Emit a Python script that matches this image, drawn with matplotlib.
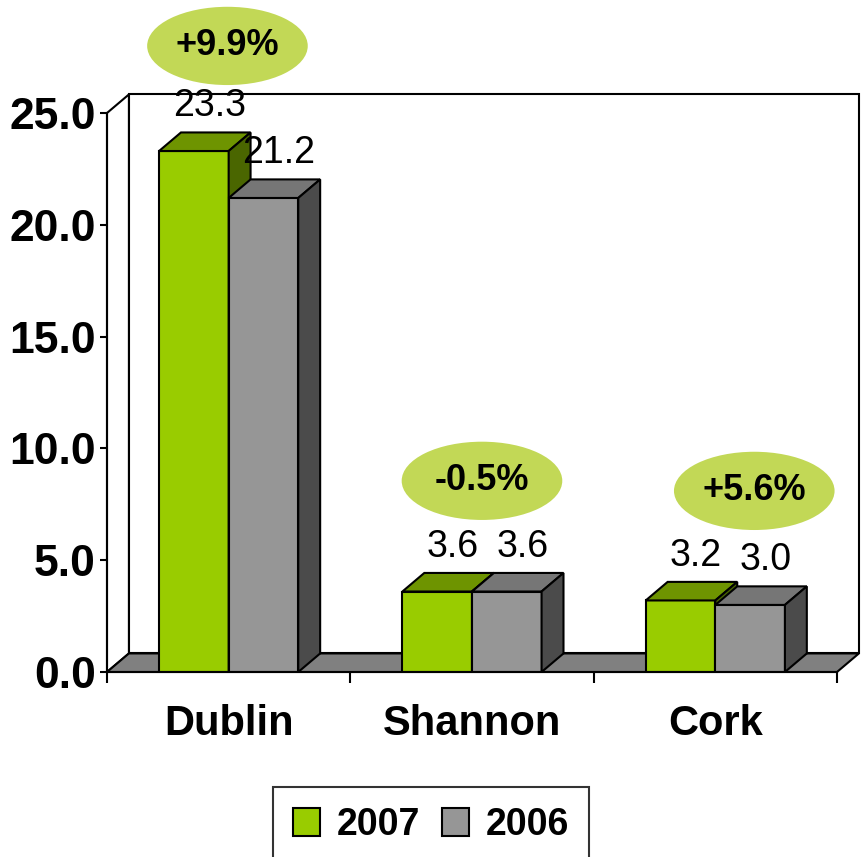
import matplotlib

matplotlib.use("Agg")
import matplotlib.pyplot as plt
from matplotlib.patches import Ellipse, Polygon, Rectangle

plt.rcParams["font.family"] = ["Liberation Sans", "DejaVu Sans"]

CATEGORIES = ["Dublin", "Shannon", "Cork"]
VALUES_2007 = [23.3, 3.6, 3.2]
VALUES_2006 = [21.2, 3.6, 3.0]
CHANGE_LABELS = ["+9.9%", "-0.5%", "+5.6%"]
SERIES_NAMES = ["2007", "2006"]
Y_TICKS = [0, 5, 10, 15, 20, 25]

# layout (data units of the axes: x = category slots, y = value)
BAR_W = 0.286
DEPTH_X = 0.09
DEPTH_Y = 0.83
BADGE_CENTERS = [(0.495, 28.0), (1.541, 8.55), (2.66, 8.1)]
BADGE_W, BADGE_H = 0.66, 3.5

GREEN = {"front": "#99cc00", "top": "#6e9400", "side": "#4a6600"}
GREY = {"front": "#969696", "top": "#767676", "side": "#4b4b4b"}
FLOOR = "#808080"
BADGE = "#c2d856"


def draw_box(ax, bar, colors):
    x0, w, h = bar.get_x(), bar.get_width(), bar.get_height()
    top = [(x0, h), (x0 + w, h), (x0 + w + DEPTH_X, h + DEPTH_Y), (x0 + DEPTH_X, h + DEPTH_Y)]
    side = [(x0 + w, 0), (x0 + w + DEPTH_X, DEPTH_Y), (x0 + w + DEPTH_X, h + DEPTH_Y), (x0 + w, h)]
    z = bar.get_zorder()
    for pts, key in ((top, "top"), (side, "side")):
        ax.add_patch(Polygon(pts, closed=True, facecolor=colors[key], edgecolor="black",
                             linewidth=1.5, zorder=z, clip_on=False))


fig = plt.figure(figsize=(8.65, 8.57), dpi=100)
ax = fig.add_axes([107 / 865, 185 / 857, 730 / 865, 559 / 857])
n = len(CATEGORIES)
ax.set_xlim(0, n)
ax.set_ylim(0, Y_TICKS[-1])

# walls and floor
ymax = Y_TICKS[-1]
ax.add_patch(Rectangle((DEPTH_X, DEPTH_Y), n, ymax, facecolor="white", edgecolor="black",
                       linewidth=1.5, zorder=1, clip_on=False))
ax.add_patch(Polygon([(0, 0), (DEPTH_X, DEPTH_Y), (DEPTH_X, ymax + DEPTH_Y), (0, ymax)],
                     facecolor="white", edgecolor="black", linewidth=1.5, zorder=1, clip_on=False))
ax.add_patch(Polygon([(0, 0), (n, 0), (n + DEPTH_X, DEPTH_Y), (DEPTH_X, DEPTH_Y)],
                     facecolor=FLOOR, edgecolor="black", linewidth=1.5, zorder=2, clip_on=False))

centers = [i + 0.5 for i in range(n)]
for i, (v07, v06) in enumerate(zip(VALUES_2007, VALUES_2006)):
    b07 = ax.bar(centers[i] - BAR_W, v07, BAR_W, align="edge", color=GREEN["front"],
                 edgecolor="black", linewidth=1.5, zorder=3 + 2 * i)[0]
    draw_box(ax, b07, GREEN)
    b06 = ax.bar(centers[i], v06, BAR_W, align="edge", color=GREY["front"],
                 edgecolor="black", linewidth=1.5, zorder=4 + 2 * i)[0]
    draw_box(ax, b06, GREY)
    for b, v in ((b07, v07), (b06, v06)):
        ax.annotate(f"{v:.1f}", (b.get_x() + b.get_width() / 2 + DEPTH_X * 0.7, v + DEPTH_Y),
                    xytext=(0, 6), textcoords="offset points", ha="center", va="bottom",
                    fontsize=27, zorder=20, annotation_clip=False)

for (cx, cy), txt in zip(BADGE_CENTERS, CHANGE_LABELS):
    ax.add_patch(Ellipse((cx, cy), BADGE_W, BADGE_H, facecolor=BADGE, edgecolor="none",
                         zorder=15, clip_on=False))
    ax.text(cx, cy, txt, ha="center", va="center", fontsize=26, fontweight="bold", zorder=16)

# axes
for s in ("top", "right"):
    ax.spines[s].set_visible(False)
for s in ("left", "bottom"):
    ax.spines[s].set_linewidth(1.5)
    ax.spines[s].set_zorder(10)
ax.set_yticks(Y_TICKS)
ax.set_yticklabels([f"{t:.1f}" for t in Y_TICKS], fontsize=32, fontweight="bold")
ax.tick_params(axis="y", length=5, width=1.5, pad=3)
ax.set_xticks(range(n + 1))
ax.set_xticklabels([])
ax.tick_params(axis="x", which="major", length=8, width=1.5)
ax.set_xticks(centers, minor=True)
ax.set_xticklabels(CATEGORIES, minor=True, fontsize=30, fontweight="bold")
ax.tick_params(axis="x", which="minor", length=0, pad=23)

handles = [Rectangle((0, 0), 1, 1, facecolor=GREEN["front"], edgecolor="black", linewidth=1.5),
           Rectangle((0, 0), 1, 1, facecolor=GREY["front"], edgecolor="black", linewidth=1.5)]
leg = fig.legend(handles, SERIES_NAMES, loc="lower center", bbox_to_anchor=(431 / 865, -0.008),
                 ncol=2, frameon=True, fancybox=False, edgecolor="black",
                 prop={"size": 27, "weight": "bold"}, handlelength=0.7, handleheight=0.75,
                 handletextpad=0.45, columnspacing=0.6, borderpad=0.55, borderaxespad=0)
leg.get_frame().set_linewidth(1.5)

fig.savefig("out.png", dpi=100)
